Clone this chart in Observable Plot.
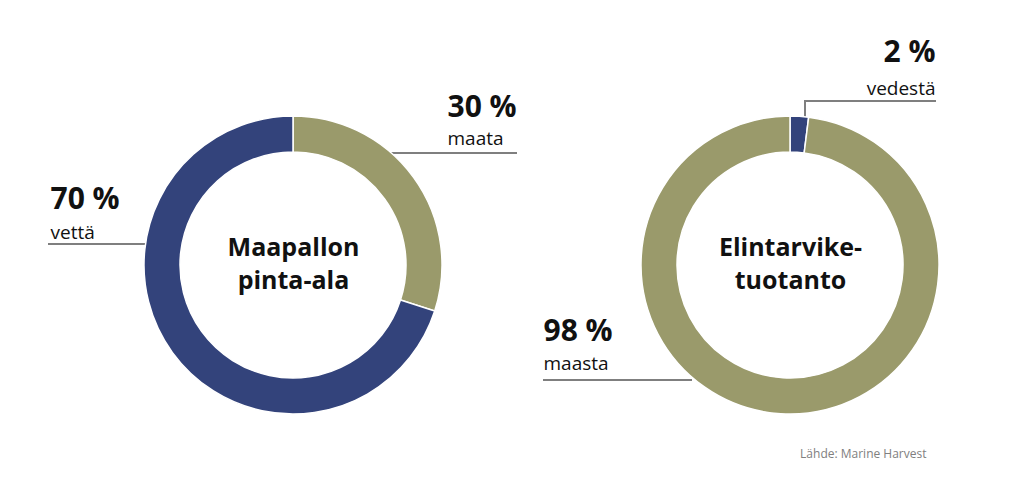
<!DOCTYPE html>
<html><head><meta charset="utf-8">
<script src="https://cdn.jsdelivr.net/npm/d3@7"></script>
<script src="https://cdn.jsdelivr.net/npm/@observablehq/plot@0.6"></script>
<style>body{margin:0;background:#fff;} #chart{width:1024px;height:500px;}</style>
</head><body><div id="chart"></div>
<script>
// ---- data ----
const charts = ["Maapallon pinta-ala", "Elintarviketuotanto"];
const titleTop = ["Maapallon", "Elintarvike-"];
const titleBottom = ["pinta-ala", "tuotanto"];
const categories = ["maa", "vesi"];
const leftOrder = ["maa", "vesi"];
const leftValues = [30, 70];
const rightOrder = ["vesi", "maa"];
const rightValues = [2, 98];
const percentLabels = ["30 %", "70 %", "2 %", "98 %"];
const nameLabels = ["maata", "vettä", "vedestä", "maasta"];
const labelCharts = [0, 0, 1, 1];
const sourceText = "Lähde: Marine Harvest";

// ---- derived tables ----
const slices = [
  ...leftOrder.map((c, i) => ({chart: charts[0], cat: c, value: leftValues[i]})),
  ...rightOrder.map((c, i) => ({chart: charts[1], cat: c, value: rightValues[i]}))
];
const titles = charts.map((c, i) => ({chart: c, top: titleTop[i], bottom: titleBottom[i]}));
const annotations = percentLabels.map((p, i) => ({chart: charts[labelCharts[i]], percent: p, name: nameLabels[i]}));

// ---- layout (styles/offsets) ----
const FONT = "'Open Sans', 'DejaVu Sans', sans-serif";
const annLayout = [
  {dx: 154, dyP: -149, dyN: -121, anchor: "start", line: [[98, -112], [224, -112]]},
  {dx: -243, dyP: -57, dyN: -27, anchor: "start", line: [[-245, -21], [-143, -21]]},
  {dx: 145, dyP: -204, dyN: -171, anchor: "end", line: [[15, -147], [15, -164], [146, -164]]},
  {dx: -247, dyP: 75, dyN: 104, anchor: "start", line: [[-247, 115], [-98, 115]]}
];

function donuts(index, scales, values, dims) {
  const g = d3.create("svg:g");
  const cy = (dims.marginTop + dims.height - dims.marginBottom) / 2;
  // leader lines (beneath rings)
  annotations.forEach((a, i) => {
    const cx = scales.x(a.chart);
    g.append("path")
      .attr("d", d3.line()(annLayout[i].line.map(([x, y]) => [cx + x, cy + y])))
      .attr("fill", "none").attr("stroke", "#7f7f7f").attr("stroke-width", 2);
  });
  const arc = d3.arc().innerRadius(113).outerRadius(149);
  for (const chart of charts) {
    const data = slices.filter(d => d.chart === chart);
    const arcs = d3.pie().sort(null).value(d => d.value)(data);
    g.append("g").attr("transform", `translate(${scales.x(chart)},${cy})`)
      .selectAll("path").data(arcs).join("path")
      .attr("d", arc)
      .attr("fill", d => scales.color(d.data.cat))
      .attr("stroke", "#fff").attr("stroke-width", 1.5);
  }
  return g.node();
}

const marks = [
  Plot.dot(slices, {x: "chart", fill: "cat", r: 0}),
  donuts,
  Plot.text(titles, {x: "chart", text: "top", dy: -10, lineAnchor: "bottom", textAnchor: "middle", fontSize: 25, fontWeight: "bold", fill: "#111", fontFamily: FONT}),
  Plot.text(titles, {x: "chart", text: "bottom", dy: 23, lineAnchor: "bottom", textAnchor: "middle", fontSize: 25, fontWeight: "bold", fill: "#111", fontFamily: FONT})
];
annotations.forEach((a, i) => {
  const L = annLayout[i];
  marks.push(Plot.text([a], {x: "chart", text: "percent", dx: L.dx, dy: L.dyP, lineAnchor: "bottom", textAnchor: L.anchor, fontSize: 30, fontWeight: "bold", fill: "#111", fontFamily: FONT}));
  marks.push(Plot.text([a], {x: "chart", text: "name", dx: L.dx, dy: L.dyN, lineAnchor: "bottom", textAnchor: L.anchor, fontSize: 19, fill: "#111", fontFamily: FONT}));
});
marks.push(Plot.text([{chart: charts[1], t: sourceText}], {x: "chart", text: "t", dx: 136, dy: 192, lineAnchor: "bottom", textAnchor: "end", fontSize: 12, fill: "#808080", fontFamily: FONT}));

const plot = Plot.plot({
  width: 1024,
  height: 500,
  marginTop: 30, marginBottom: 0, marginLeft: 0, marginRight: 0,
  x: {type: "point", domain: charts, range: [293, 790], padding: 0, axis: null},
  color: {domain: categories, range: ["#9a9a6b", "#33437b"]},
  style: {fontFamily: FONT, background: "#fff"},
  marks
});
document.getElementById("chart").append(plot);
</script>
</body></html>
